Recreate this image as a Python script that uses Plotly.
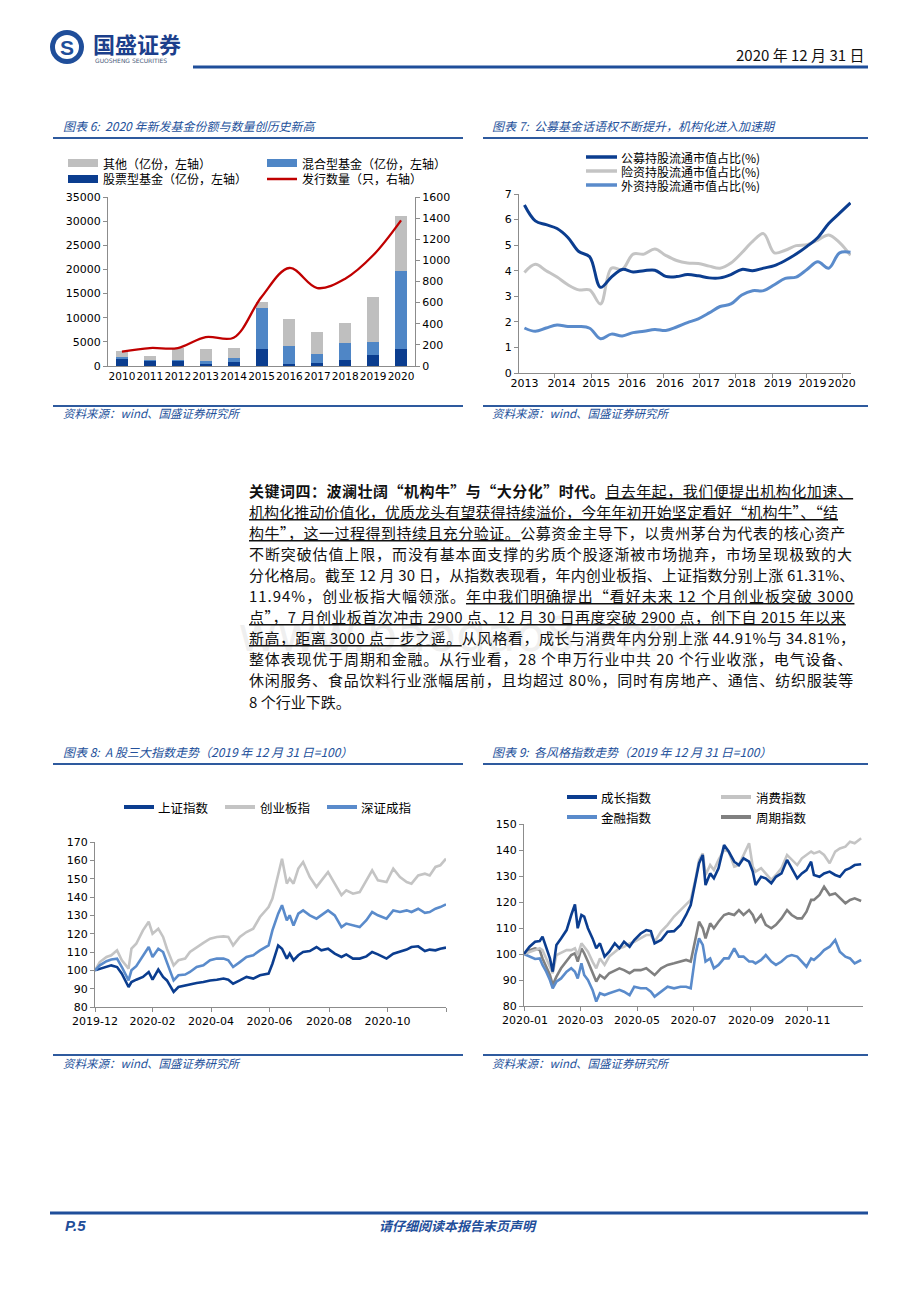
import plotly.graph_objects as go

W, H = 920, 1302
def fx(p): return p / W
def fy(p): return 1 - p / H

CJK = "Noto Sans CJK SC"
NUM = "DejaVu Sans"
NAVY = "#0B3D8F"
MIDB = "#5A8BCB"
MIXB = "#4F86C6"
LGRAY = "#C4C4C4"
BGRAY = "#BFBFBF"
DGRAY = "#808080"
RED = "#C00000"
TBLUE = "#24519B"
AX = "#8C8C8C"

# ---------------- Chart 6 data ----------------
years6 = ["2010", "2011", "2012", "2013", "2014", "2015", "2016", "2017", "2018", "2019", "2020"]
stock6 = [1520, 1035, 1035, 480, 830, 3450, 345, 550, 1310, 2280, 3450]
mixed6 = [340, 135, 205, 490, 900, 8490, 3865, 2000, 3450, 2760, 16290]
other6 = [1180, 970, 2560, 2550, 2070, 1380, 5450, 4420, 4210, 9310, 11320]
count6 = [136, 170, 170, 274, 268, 653, 928, 738, 827, 1048, 1379]

# ---------------- Chart 7 data (quarterly) ----------------
quarters7 = ["2013Q1", "2013Q2", "2013Q3", "2013Q4", "2014Q1", "2014Q2", "2014Q3", "2014Q4",
             "2015Q1", "2015Q2", "2015Q3", "2015Q4", "2016Q1", "2016Q2", "2016Q3", "2016Q4",
             "2017Q1", "2017Q2", "2017Q3", "2017Q4", "2018Q1", "2018Q2", "2018Q3", "2018Q4",
             "2019Q1", "2019Q2", "2019Q3", "2019Q4", "2020Q1", "2020Q2", "2020Q3"]
public7 = [6.57, 5.95, 5.80, 5.65, 5.30, 4.75, 4.55, 3.35, 3.75, 4.05, 3.95, 4.00, 4.02, 3.78, 3.77, 3.85,
           3.80, 3.72, 3.72, 3.85, 4.05, 4.00, 4.10, 4.20, 4.40, 4.65, 4.95, 5.30, 5.85, 6.25, 6.65]
insur7 = [3.93, 4.25, 4.00, 3.75, 3.45, 3.25, 3.25, 2.70, 4.10, 4.05, 4.65, 4.65, 4.85, 4.60, 4.40, 4.30,
          4.28, 4.18, 4.10, 4.30, 4.70, 5.15, 5.45, 4.70, 4.80, 4.98, 5.02, 5.20, 5.40, 5.10, 4.60]
foreign7 = [1.76, 1.63, 1.76, 1.88, 1.82, 1.82, 1.75, 1.34, 1.52, 1.45, 1.58, 1.63, 1.70, 1.66, 1.80, 1.97,
            2.12, 2.35, 2.60, 2.70, 3.05, 3.22, 3.22, 3.45, 3.70, 3.75, 4.05, 4.35, 4.10, 4.70, 4.72]
ticktext7 = ["2013", "2014", "2015", "2016", "2016", "2017", "2018", "2019", "2019", "2020"]
tickpos7 = [0, 3.4, 6.6, 9.9, 13.4, 16.7, 20, 23.3, 26.5, 29.2]
minorpos7 = [2.8, 6.2, 9.5, 12.8, 16.1, 19.4, 22.8, 26.0, 29.3]

# ---------------- Chart 8 data ----------------
dates8 = ["2019-12-31", "2020-01-05", "2020-01-12", "2020-01-17", "2020-01-23", "2020-01-28", "2020-02-04",
          "2020-02-07", "2020-02-12", "2020-02-19", "2020-02-25", "2020-02-29", "2020-03-06", "2020-03-11",
          "2020-03-15", "2020-03-22", "2020-03-27", "2020-04-03", "2020-04-08", "2020-04-15", "2020-04-22",
          "2020-04-29", "2020-05-06", "2020-05-13", "2020-05-18", "2020-05-23", "2020-05-30", "2020-06-06",
          "2020-06-13", "2020-06-20", "2020-06-29", "2020-07-03", "2020-07-09", "2020-07-13", "2020-07-18",
          "2020-07-21", "2020-07-25", "2020-07-30", "2020-08-04", "2020-08-11", "2020-08-18", "2020-08-23",
          "2020-08-30", "2020-09-06", "2020-09-13", "2020-09-18", "2020-09-25", "2020-10-02", "2020-10-09",
          "2020-10-15", "2020-10-21", "2020-10-30", "2020-11-06", "2020-11-13", "2020-11-20", "2020-11-25",
          "2020-12-02", "2020-12-09", "2020-12-14", "2020-12-20", "2020-12-25", "2020-12-31"]
sh8 = [100, 100.9, 101.8, 102.7, 101.8, 98.2, 90.9, 93.6, 94.9, 96.4,
       99.1, 94.9, 100.4, 96.4, 94.5, 88.2, 90.9, 91.8, 92.4, 93.1,
       93.6, 94.5, 94.9, 95.5, 94.9, 92.7, 94.5, 96.4, 95.5, 97.3,
       98.2, 103.6, 113.6, 111.8, 106.4, 109.1, 105.5, 108.2, 110, 110.5,
       112.7, 110.9, 111.8, 109.1, 107.3, 108.7, 106.4, 106.4, 107.6, 110,
       108.7, 106.4, 109.1, 110, 111.3, 112.7, 113.1, 110.5, 111.3, 110.9,
       111.8, 112.4]
cyb8 = [100, 104.5, 107.3, 108.2, 110.9, 105.5, 100.9, 111.8, 114.5, 121.8,
        126.5, 120, 122.7, 118.2, 111.8, 102.7, 105.5, 106.4, 110, 112.7,
        115, 117.3, 118.2, 118.5, 118.2, 113.6, 118.2, 120.9, 122.7, 129.1,
        134.5, 139.1, 152.7, 160.9, 147.3, 150, 147.3, 155.5, 159.1, 150.9,
        145.5, 149.1, 153.6, 147.3, 141, 143.6, 141.8, 142.7, 149.1, 154.5,
        149.1, 148.2, 155.5, 150.9, 148.2, 147.3, 151.8, 152.7, 151.8, 156.4,
        157.3, 160.9]
sz8 = [100, 102.7, 105, 105.9, 106.4, 101.8, 94.5, 100, 102.3, 108.2,
       112.7, 107.3, 111.8, 110, 104.5, 94.5, 97.3, 97.7, 99.1, 101.8,
       102.7, 105.5, 106.4, 106.4, 105.5, 101.8, 104.5, 107.3, 108.2, 110.9,
       113.6, 121.8, 130.9, 135.5, 127.3, 130, 124.5, 130.9, 132.7, 130,
       128.2, 130, 132.7, 130, 123.6, 125.5, 124.5, 123.6, 127.3, 131.8,
       130, 128.2, 132.7, 131.8, 132.7, 131.8, 133.6, 131.4, 131.8, 133.6,
       134.5, 136]
tickvals8 = ["2019-12-31", "2020-02-29", "2020-04-30", "2020-06-30", "2020-08-31", "2020-10-31", "2020-12-31"]
ticktext8 = ["2019-12", "2020-02", "2020-04", "2020-06", "2020-08", "2020-10", ""]

# ---------------- Chart 9 data ----------------
dates9 = ["2019-12-31", "2020-01-06", "2020-01-12", "2020-01-17", "2020-01-20", "2020-01-24", "2020-01-28",
          "2020-01-31", "2020-02-04", "2020-02-09", "2020-02-15", "2020-02-20", "2020-02-24", "2020-02-27",
          "2020-03-02", "2020-03-05", "2020-03-09", "2020-03-14", "2020-03-18", "2020-03-22", "2020-03-27",
          "2020-04-01", "2020-04-07", "2020-04-12", "2020-04-17", "2020-04-23", "2020-04-28", "2020-05-05",
          "2020-05-11", "2020-05-16", "2020-05-20", "2020-05-27", "2020-06-03", "2020-06-10", "2020-06-17",
          "2020-06-23", "2020-06-28", "2020-07-03", "2020-07-07", "2020-07-11", "2020-07-14", "2020-07-19",
          "2020-07-23", "2020-07-28", "2020-08-03", "2020-08-08", "2020-08-14", "2020-08-19", "2020-08-24",
          "2020-08-30", "2020-09-03", "2020-09-06", "2020-09-12", "2020-09-17", "2020-09-23", "2020-09-28",
          "2020-10-04", "2020-10-10", "2020-10-15", "2020-10-21", "2020-10-26", "2020-10-31", "2020-11-05",
          "2020-11-08", "2020-11-14", "2020-11-19", "2020-11-25", "2020-12-01", "2020-12-06", "2020-12-12",
          "2020-12-17", "2020-12-22", "2020-12-29"]
growth9 = [100, 102.8, 104.7, 105, 106.7, 102.2, 98.3, 93.2, 103.5, 106,
           109.2, 115, 119.1, 109.9, 115, 114.4, 109.9, 106, 102.2, 104.1,
           99, 100.9, 104.1, 102.2, 104.7, 102.8, 105.4, 107.9, 109.2, 108.8,
           104.1, 105.4, 108.6, 108.8, 111.2, 115, 118.8, 127.8, 134.9, 138.1,
           126.5, 131, 129.1, 133, 141.9, 139.4, 135.5, 134.2, 136.8, 135.5,
           131.7, 126.5, 129.7, 129.1, 127.2, 129.7, 131, 136.2, 133, 129.1,
           131, 132.3, 135.5, 130.4, 129.7, 131, 131.7, 130.4, 129.7, 132.3,
           133, 134.2, 134.5]
consume9 = [100, 100.9, 101.5, 102.2, 101.5, 98.3, 95.1, 92.6, 99.6, 100.6,
            101.5, 101.5, 102.2, 99.6, 104.1, 102.8, 100.9, 97.1, 94.5, 98.3,
            95.8, 99, 100.9, 102.2, 102.8, 104.1, 104.7, 106, 107.3, 107.3,
            104.7, 108.6, 111.2, 114.4, 116.9, 118.8, 120.8, 128.5, 136.2, 138.7,
            130.4, 134.2, 132.3, 136.2, 140, 139.4, 133.6, 134.2, 138.1, 142.6,
            133.6, 131.7, 133, 131, 128.5, 130.4, 133, 138.1, 136.2, 134.2,
            136.8, 138.1, 139.4, 138.7, 139.4, 138.1, 134.9, 139.4, 140.6, 141.3,
            143.2, 142.6, 144.5]
finance9 = [100, 99, 98.1, 98.3, 95.8, 93.2, 90, 86.8, 89.4, 90.6,
            93.2, 94.5, 93.2, 90.6, 96.4, 91.9, 90, 86.2, 81.7, 84.9,
            84.2, 84.9, 85.5, 86.2, 85.5, 84.2, 87.4, 86.8, 86.8, 85.5,
            83.6, 85.5, 87.4, 86.8, 87.4, 87.4, 86.8, 99.6, 106, 103.5,
            97.1, 98.3, 94.5, 95.8, 98.3, 98.3, 102.2, 99, 99, 97.1,
            97.1, 96.4, 97.7, 99.6, 97.1, 95.8, 97.1, 99, 99.6, 99,
            97.1, 95.1, 98.3, 97.7, 99.6, 101.5, 102.8, 105.4, 100.9, 99,
            98.3, 96.4, 97.7]
cycle9 = [100, 101.5, 102.2, 101.5, 98.3, 95.1, 91.9, 88.1, 91.3, 94.5,
          97.1, 99.6, 100.3, 97.1, 102.2, 100.3, 97.1, 93.2, 89.4, 91.9,
          90.6, 92.6, 93.8, 94.5, 93.8, 92.6, 93.8, 93.8, 94.5, 93.2,
          91.9, 94.5, 95.8, 96.4, 97.1, 97.7, 97.1, 106, 112.4, 109.9,
          106, 111.8, 109.9, 112.4, 115, 115.6, 115, 116.9, 115, 116.9,
          115, 112.4, 115, 111.2, 109.9, 111.2, 113.7, 116.9, 115, 113.7,
          113.7, 116.3, 120.8, 120.8, 122.7, 125.9, 122.7, 123.3, 121.4, 119.5,
          120.8, 121.4, 120.4]
tickvals9 = ["2020-01-01", "2020-03-01", "2020-05-01", "2020-07-01", "2020-09-01", "2020-11-01"]
ticktext9 = ["2020-01", "2020-03", "2020-05", "2020-07", "2020-09", "2020-11"]

# ---------------- Body text ----------------
para_lines = [
    [("关键词四：波澜壮阔“机构牛”与“大分化”时代。", "b"), ("自去年起，我们便提出机构化加速、", "u")],
    [("机构化推动价值化，优质龙头有望获得持续溢价，今年年初开始坚定看好“机构牛”、“结", "u")],
    [("构牛”，这一过程得到持续且充分验证。", "u"), ("公募资金主导下，以贵州茅台为代表的核心资产", "n")],
    [("不断突破估值上限，而没有基本面支撑的劣质个股逐渐被市场抛弃，市场呈现极致的大", "n")],
    [("分化格局。截至 12 月 30 日，从指数表现看，年内创业板指、上证指数分别上涨 61.31%、", "n")],
    [("11.94%，创业板指大幅领涨。", "n"), ("年中我们明确提出“看好未来 12 个月创业板突破 3000", "u")],
    [("点”，7 月创业板首次冲击 2900 点、12 月 30 日再度突破 2900 点，创下自 2015 年以来", "u")],
    [("新高，距离 3000 点一步之遥。", "u"), ("从风格看，成长与消费年内分别上涨 44.91%与 34.81%，", "n")],
    [("整体表现优于周期和金融。从行业看，28 个申万行业中共 20 个行业收涨，电气设备、", "n")],
    [("休闲服务、食品饮料行业涨幅居前，且均超过 80%，同时有房地产、通信、纺织服装等", "n")],
    [("8 个行业下跌。", "n")],
]

fig = go.Figure()

# Chart 6
fig.add_trace(go.Bar(x=years6, y=stock6, marker=dict(color=NAVY, line_width=0), xaxis="x", yaxis="y"))
fig.add_trace(go.Bar(x=years6, y=mixed6, marker=dict(color=MIXB, line_width=0), xaxis="x", yaxis="y"))
fig.add_trace(go.Bar(x=years6, y=other6, marker=dict(color=BGRAY, line_width=0), xaxis="x", yaxis="y"))
fig.add_trace(go.Scatter(x=years6, y=count6, mode="lines", xaxis="x", yaxis="y2",
                         line=dict(color=RED, width=2.3, shape="spline", smoothing=1.0)))

# Chart 7
x7 = list(range(len(quarters7)))
for vals, col in [(insur7, LGRAY), (foreign7, MIDB), (public7, NAVY)]:
    fig.add_trace(go.Scatter(x=x7, y=vals, mode="lines", xaxis="x2", yaxis="y3",
                             line=dict(color=col, width=3, shape="spline", smoothing=1.0)))

# Chart 8
for vals, col in [(sh8, NAVY), (cyb8, LGRAY), (sz8, MIDB)]:
    fig.add_trace(go.Scatter(x=dates8, y=vals, mode="lines", xaxis="x3", yaxis="y4",
                             line=dict(color=col, width=2.6)))

# Chart 9
for vals, col in [(cycle9, DGRAY), (finance9, MIDB), (consume9, LGRAY), (growth9, NAVY)]:
    fig.add_trace(go.Scatter(x=dates9, y=vals, mode="lines", xaxis="x4", yaxis="y5",
                             line=dict(color=col, width=2.6)))

base = dict(showgrid=False, zeroline=False, showline=True, linecolor=AX, linewidth=1,
            tickfont=dict(family=NUM, size=11, color="#000"), fixedrange=True,
            tickcolor=AX, ticklen=4, automargin=False)

layout = dict(
    width=W, height=H, autosize=False, margin=dict(l=0, r=0, t=0, b=0, pad=0, autoexpand=False),
    paper_bgcolor="white", plot_bgcolor="rgba(0,0,0,0)", showlegend=False,
    barmode="stack", bargap=0.57,
    xaxis=dict(base, domain=[fx(108), fx(415)], anchor="y", type="category", ticks="",
               tickangle=0, tickfont=dict(family=NUM, size=10.5, color="#000")),
    yaxis=dict(base, domain=[fy(366), fy(197)], anchor="x", range=[0, 35000], dtick=5000,
               tickformat="d", ticks="outside"),
    yaxis2=dict(base, overlaying="y", side="right", anchor="x", range=[0, 1600], dtick=200,
                tickformat="d", ticks="outside"),
    xaxis2=dict(base, domain=[fx(519), fx(851)], anchor="y3", range=[-0.5, 30.05], tickangle=0,
                tickmode="array", tickvals=tickpos7, ticktext=ticktext7, ticks="",
                minor=dict(tickmode="array", tickvals=minorpos7, ticks="outside", ticklen=4, tickcolor=AX)),
    yaxis3=dict(base, domain=[fy(373), fy(194)], anchor="x2", range=[0, 7], dtick=1, ticks="outside"),
    xaxis3=dict(base, domain=[fx(95), fx(446)], anchor="y4", type="date", tickangle=0,
                range=["2019-12-31", "2020-12-31"], tickmode="array", tickvals=tickvals8,
                ticktext=ticktext8, ticks="outside"),
    yaxis4=dict(base, domain=[fy(1007), fy(842)], anchor="x3", range=[80, 170], dtick=10, ticks="outside"),
    xaxis4=dict(base, domain=[fx(524), fx(863)], anchor="y5", type="date", tickangle=0,
                range=["2019-12-31", "2020-12-31"], tickmode="array", tickvals=tickvals9,
                ticktext=ticktext9, ticks="outside"),
    yaxis5=dict(base, domain=[fy(1006), fy(824)], anchor="x4", range=[80, 150], dtick=10, ticks="outside"),
)

ann = []
shapes = []

def T(x, y, s, size=12, color="#000", family=CJK, xa="left", ya="middle"):
    ann.append(dict(x=fx(x), y=fy(y), xref="paper", yref="paper", text=s, showarrow=False,
                    xanchor=xa, yanchor=ya, font=dict(family=family, size=size, color=color)))

def L(x0, y0, x1, y1, color, w):
    shapes.append(dict(type="line", xref="paper", yref="paper", x0=fx(x0), y0=fy(y0),
                       x1=fx(x1), y1=fy(y1), line=dict(color=color, width=w)))

def R(x0, y0, x1, y1, color):
    shapes.append(dict(type="rect", xref="paper", yref="paper", x0=fx(x0), y0=fy(y1),
                       x1=fx(x1), y1=fy(y0), fillcolor=color, line=dict(width=0)))

# watermark
T(465, 634, "www.baogao8.com", size=48, color="rgba(200,200,200,0.28)", family=NUM, xa="center")

# header
shapes.append(dict(type="circle", xref="paper", yref="paper", x0=fx(50), x1=fx(84), y0=fy(64), y1=fy(30),
                   fillcolor="#1F4E9A", line=dict(width=0)))
shapes.append(dict(type="circle", xref="paper", yref="paper", x0=fx(55), x1=fx(79), y0=fy(59), y1=fy(35),
                   fillcolor="white", line=dict(width=0)))
T(67, 47, "<b>S</b>", size=21, color="#1F4E9A", family="Liberation Sans", xa="center")
T(91, 43, "<b>国盛证券</b>", size=22, color="#1C3F8C")
T(93, 60, "GUOSHENG SECURITIES", size=6, color="#4A5A7A", family=NUM)
T(866, 54, "2020 年 12 月 31 日", size=15, color="#111", family="Liberation Sans Narrow, " + CJK, xa="right")
L(193, 67, 868, 67, "#1F4E9A", 3)

# chart titles & rules
T(61, 125, "<i>图表 6:  2020 年新发基金份额与数量创历史新高</i>", size=12, color=TBLUE)
T(490, 125, "<i>图表 7:  公募基金话语权不断提升，机构化进入加速期</i>", size=12, color=TBLUE)
L(53, 138, 463, 138, "#2E5A9E", 2)
L(483, 138, 868, 138, "#2E5A9E", 2)
L(53, 406, 463, 406, "#2E5A9E", 2)
L(483, 406, 868, 406, "#2E5A9E", 2)
T(61, 413, "<i>资料来源：wind、国盛证券研究所</i>", size=11.5, color=TBLUE)
T(490, 413, "<i>资料来源：wind、国盛证券研究所</i>", size=11.5, color=TBLUE)

T(61, 751, "<i>图表 8:  A 股三大指数走势（2019 年 12 月 31 日=100）</i>", size=12, color=TBLUE)
T(490, 751, "<i>图表 9:  各风格指数走势（2019 年 12 月 31 日=100）</i>", size=12, color=TBLUE)
L(53, 764, 463, 764, "#2E5A9E", 2)
L(483, 764, 868, 764, "#2E5A9E", 2)
L(53, 1055, 463, 1055, "#2E5A9E", 2)
L(483, 1055, 868, 1055, "#2E5A9E", 2)
T(61, 1063, "<i>资料来源：wind、国盛证券研究所</i>", size=11.5, color=TBLUE)
T(490, 1063, "<i>资料来源：wind、国盛证券研究所</i>", size=11.5, color=TBLUE)

# chart 6 legend
R(68, 159, 98, 167, BGRAY); T(101, 163, "其他（亿份，左轴）")
R(267, 159, 297, 167, MIXB); T(300, 163, "混合型基金（亿份，左轴）")
R(68, 175, 98, 183, NAVY); T(101, 179, "股票型基金（亿份，左轴）")
L(267, 179, 297, 179, RED, 2.5); T(300, 179, "发行数量（只，右轴）")

# chart 7 legend
L(586, 157, 617, 157, NAVY, 3.5); T(619, 157, "公募持股流通市值占比(%)")
L(586, 171, 617, 171, LGRAY, 3.5); T(619, 171, "险资持股流通市值占比(%)")
L(586, 185, 617, 185, MIDB, 3.5); T(619, 185, "外资持股流通市值占比(%)")

# chart 8 legend
L(124, 807, 154, 807, NAVY, 4); T(156, 807, "上证指数", size=12.5)
L(225, 807, 255, 807, LGRAY, 4); T(258, 807, "创业板指", size=12.5)
L(327, 807, 357, 807, MIDB, 4); T(359, 807, "深证成指", size=12.5)

# chart 9 legend
L(567, 797, 597, 797, NAVY, 4); T(599, 797, "成长指数", size=12.5)
L(721, 797, 751, 797, LGRAY, 4); T(754, 797, "消费指数", size=12.5)
L(567, 817, 597, 817, MIDB, 4); T(599, 817, "金融指数", size=12.5)
L(721, 817, 751, 817, DGRAY, 4); T(754, 817, "周期指数", size=12.5)

# body paragraph
def em_width(s):
    w = 0.0
    for ch in s:
        o = ord(ch)
        if o >= 0x2E80 or ch in "“”‘’":
            w += 1.0
        elif ch.isdigit():
            w += 0.553
        elif ch == " ":
            w += 0.224
        elif ch == ".":
            w += 0.27
        elif ch == "%":
            w += 0.86
        else:
            w += 0.55
    return w

BODY = 15
for k, segs in enumerate(para_lines):
    full = "".join(s for s, _ in segs)
    n = len(full)
    natural = em_width(full) * BODY
    ls = 0.0
    if k < len(para_lines) - 1:
        ls = max(0.0, (604 - natural) / n)
    parts = []
    for s, st in segs:
        if st == "b":
            parts.append("<b>" + s + "</b>")
        elif st == "u":
            parts.append('<span style="text-decoration:underline">' + s + "</span>")
        else:
            parts.append(s)
    html = '<span style="letter-spacing:%.2fpx">' % ls + "".join(parts) + "</span>"
    T(247, 490 + 21.1 * k, html, size=BODY, color="#111")

# footer
L(50, 1213, 868, 1213, "#1F4E9A", 3)
T(63, 1225, "<b><i>P.5</i></b>", size=15, color="#1F4E9A", family="Liberation Sans")
T(458, 1225, "<b><i>请仔细阅读本报告末页声明</i></b>", size=13, color="#1F4E9A", xa="center")

layout["annotations"] = ann
layout["shapes"] = shapes
fig.update_layout(**layout)

fig.write_html("out.html", config={"displayModeBar": False, "responsive": False},
               post_script="document.body.style.margin='0';")
